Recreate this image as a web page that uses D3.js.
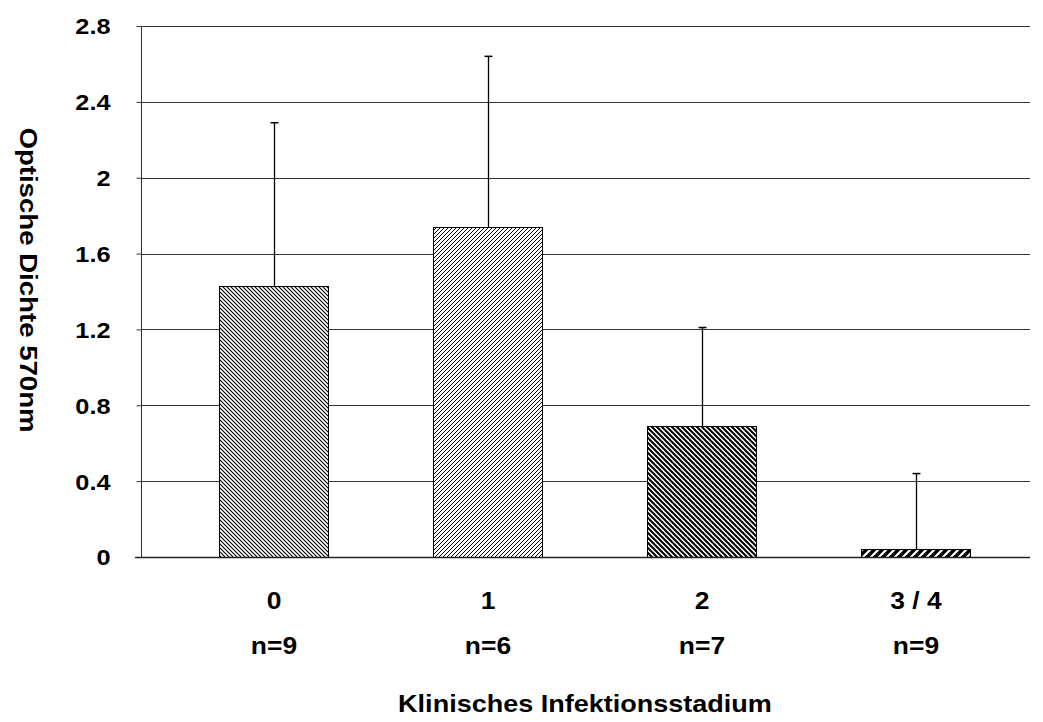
<!DOCTYPE html>
<html>
<head>
<meta charset="utf-8">
<script src="https://cdn.jsdelivr.net/npm/d3@7"></script>
<style>
  body { margin: 0; background: #fff; }
  text { font-family: "Liberation Sans", Arial, sans-serif; font-weight: bold; fill: #000; }
</style>
</head>
<body>
<div id="root"></div>
<script>
const WIDTH = 1043
const HEIGHT = 722

const categories = ['0', '1', '2', '3 / 4']
const sampleSizes = ['n=9', 'n=6', 'n=7', 'n=9']
const means = [1.43, 1.74, 0.69, 0.04]
const errorTops = [2.29, 2.64, 1.21, 0.44]
const yTicks = [0, 0.4, 0.8, 1.2, 1.6, 2, 2.4, 2.8]
const patterns = ['light-down', 'light-up', 'dark-down', 'wide-up']

const PLOT_LEFT = 141
const PLOT_RIGHT = 1030
const PLOT_TOP = 26
const PLOT_BOTTOM = 557
const SX = 1.15 // text in the original is stretched sideways

const yScale = d3.scaleLinear()
  .domain([0, 2.8])
  .range([PLOT_BOTTOM, PLOT_TOP])

const xScale = d3.scaleBand()
  .domain(categories)
  .range([167, 1023])
  .paddingInner(0.49)
  .paddingOuter(0.245)

const svg = d3.select('#root')
  .append('svg')
  .attr('width', WIDTH)
  .attr('height', HEIGHT)

const defs = svg.append('defs')

// hatch fills, like the old office patterns
function hatch(id, size, width, up) {
  const p = defs.append('pattern')
    .attr('id', id)
    .attr('patternUnits', 'userSpaceOnUse')
    .attr('width', size)
    .attr('height', size)
  p.append('rect').attr('width', size).attr('height', size).attr('fill', '#fff')
  const s = size
  const d = up
    ? `M0,${s} L${s},0 M${-s / 2},${s / 2} L${s / 2},${-s / 2} M${s / 2},${s * 1.5} L${s * 1.5},${s / 2}`
    : `M0,0 L${s},${s} M${-s / 2},${s / 2} L${s / 2},${s * 1.5} M${s / 2},${-s / 2} L${s * 1.5},${s / 2}`
  p.append('path').attr('d', d).attr('stroke', '#000').attr('stroke-width', width)
}
hatch('light-down', 4, 1.1, false)
hatch('light-up', 4, 1, true)
hatch('dark-down', 5, 2, false)
hatch('wide-up', 8, 3.4, true)

// gridlines
svg.append('g')
  .selectAll('line')
  .data(yTicks.filter(t => t > 0))
  .enter()
  .append('line')
  .attr('x1', PLOT_LEFT)
  .attr('x2', PLOT_RIGHT)
  .attr('y1', d => Math.round(yScale(d)) + 0.5)
  .attr('y2', d => Math.round(yScale(d)) + 0.5)
  .attr('stroke', '#333')
  .attr('stroke-width', 1)

// y axis
const yAxis = d3.axisLeft(yScale)
  .tickValues(yTicks)
  .tickSize(5)
  .tickFormat(d => d3.format('')(+d.toFixed(1)))

const yG = svg.append('g')
  .attr('transform', `translate(${PLOT_LEFT + 0.5}, 0)`)
  .call(yAxis)
yG.attr('font-family', null).attr('font-size', null)
yG.select('.domain').attr('stroke', '#333').attr('d', `M0,${PLOT_TOP}V${PLOT_BOTTOM}`)
yG.selectAll('.tick line').attr('stroke', '#333')
yG.selectAll('.tick text')
  .attr('transform', `scale(${SX},1)`)
  .attr('x', -31 / SX)
  .attr('dy', '0.36em')
  .style('font-size', '22px')

// bars
svg.append('g')
  .selectAll('rect')
  .data(categories)
  .enter()
  .append('rect')
  .attr('x', d => Math.round(xScale(d)) + 0.5)
  .attr('y', (d, i) => Math.round(yScale(means[i])) + 0.5)
  .attr('width', Math.round(xScale.bandwidth()))
  .attr('height', (d, i) => Math.round(yScale(0)) - Math.round(yScale(means[i])))
  .attr('fill', (d, i) => `url(#${patterns[i]})`)
  .attr('stroke', '#000')
  .attr('stroke-width', 1)

// error bars (upper only)
const err = svg.append('g')
  .selectAll('g')
  .data(categories)
  .enter()
  .append('g')
  .attr('transform', d => `translate(${Math.round(xScale(d) + xScale.bandwidth() / 2) + 0.5}, 0)`)

err.append('line')
  .attr('y1', (d, i) => yScale(means[i]))
  .attr('y2', (d, i) => yScale(errorTops[i]))
  .attr('stroke', '#000')
  .attr('stroke-width', 1.3)
err.append('line')
  .attr('x1', -4)
  .attr('x2', 4)
  .attr('y1', (d, i) => yScale(errorTops[i]))
  .attr('y2', (d, i) => yScale(errorTops[i]))
  .attr('stroke', '#000')
  .attr('stroke-width', 1.5)

// baseline
svg.append('line')
  .attr('x1', PLOT_LEFT - 6)
  .attr('x2', PLOT_RIGHT)
  .attr('y1', PLOT_BOTTOM + 0.5)
  .attr('y2', PLOT_BOTTOM + 0.5)
  .attr('stroke', '#222')
  .attr('stroke-width', 1.5)

// category labels and sample sizes
const labels = svg.append('g')
  .selectAll('g')
  .data(categories)
  .enter()
  .append('g')
  .attr('transform', d => `translate(${xScale(d) + xScale.bandwidth() / 2}, 0) scale(${SX},1)`)

labels.append('text')
  .attr('y', 609)
  .attr('text-anchor', 'middle')
  .style('font-size', '23px')
  .text(d => d)

labels.append('text')
  .attr('y', 654)
  .attr('text-anchor', 'middle')
  .style('font-size', '23px')
  .text((d, i) => sampleSizes[i])

// axis titles
svg.append('text')
  .attr('transform', `translate(585, 712) scale(${SX},1)`)
  .attr('text-anchor', 'middle')
  .style('font-size', '23.5px')
  .text('Klinisches Infektionsstadium')

svg.append('text')
  .attr('transform', `translate(20, 280) rotate(90) scale(${SX},1)`)
  .attr('text-anchor', 'middle')
  .style('font-size', '24px')
  .text('Optische Dichte 570nm')
</script>
</body>
</html>
